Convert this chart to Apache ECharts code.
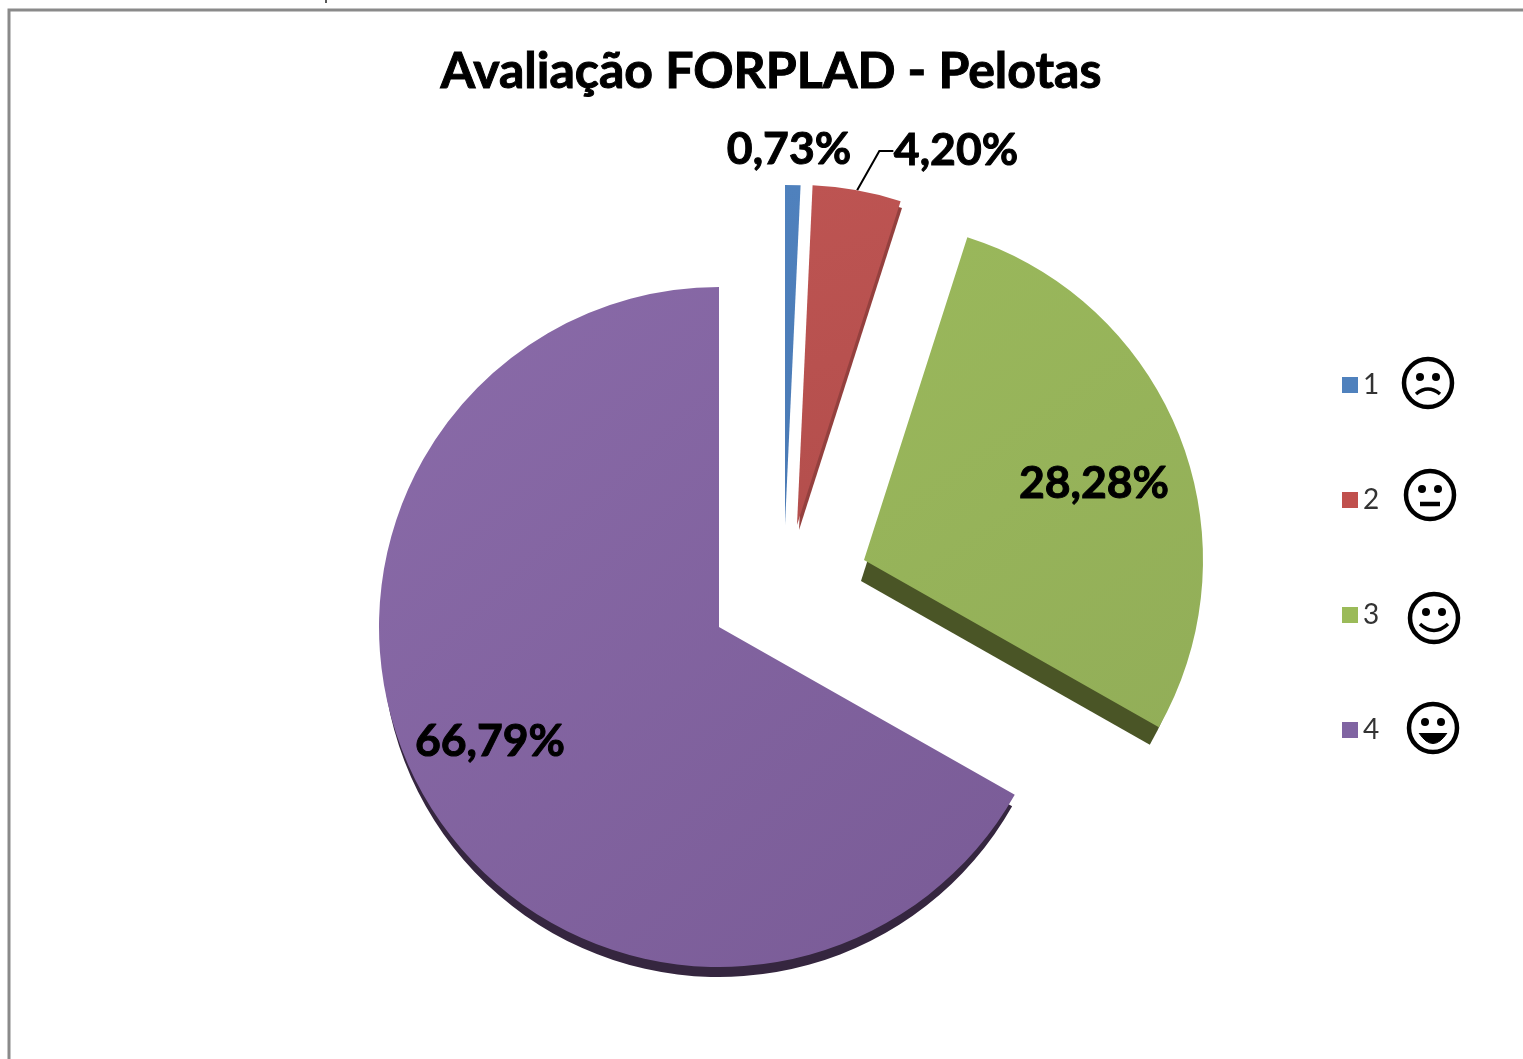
<!DOCTYPE html>
<html>
<head>
<meta charset="utf-8">
<title>Avaliação FORPLAD - Pelotas</title>
<script src="https://cdn.jsdelivr.net/npm/echarts@6/dist/echarts.min.js"></script>
<style>
    html, body { margin: 0; padding: 0; background: #fff; overflow: hidden; }
    #container { width: 1523px; height: 1059px; }
</style>
</head>
<body>
<div id="container"></div>
<script>
var categories = ['1', '2', '3', '4'];
var values = [0.73, 4.20, 28.28, 66.79];

// cor clara / escura do topo e cor da lateral de cada fatia
var topColors = [['#4f81bd', '#4a7ab5'], ['#bd5452', '#b34e4c'], ['#9ab85b', '#92ae58'], ['#8a6ba9', '#795b96']];
var sideColors = ['#2c4d75', '#94403e', '#4a5526', '#35263f'];
var legendColors = ['#4f81bd', '#c0504d', '#9bbb59', '#8064a2'];

// deslocamento de cada fatia explodida
var centers = [[785, 525], [797, 525], [864, 560], [719, 627]];
var radius = [340, 340, 339, 340];
var sideOffset = [null, [2, 5], [-3, 21], [0, 13]];
var sideRadius = [0, 338, 332, 337];
var labelPos = [[789, 150], [956, 151], [1094, 484], [490, 742]];

var labelFont = {
    fontFamily: 'Lato', fontWeight: 'bold', fontSize: 44.5, color: '#000',
    textBorderColor: '#000', textBorderWidth: 1
};

function formatPercent(v) {
    return v.toFixed(2).replace('.', ',') + '%';
}

// cada serie desenha todas as fatias, mas so uma fica visivel
function sliceData(idx, color) {
    return values.map(function(v, i) {
        return {
            name: categories[i],
            value: v,
            itemStyle: { color: i === idx ? color : 'transparent' },
            label: { show: false },
            labelLine: { show: false }
        };
    });
}

function baseSeries(center, r, data) {
    return {
        type: 'pie',
        center: center,
        radius: [0, r],
        startAngle: 90,
        silent: true,
        animation: false,
        avoidLabelOverlap: false,
        emphasis: { disabled: true },
        data: data
    };
}

var series = [];
// laterais primeiro, ficam por baixo
sideOffset.forEach(function(off, i) {
    if (!off) return;
    var c = [centers[i][0] + off[0], centers[i][1] + off[1]];
    series.push(baseSeries(c, sideRadius[i], sliceData(i, sideColors[i])));
});
centers.forEach(function(c, i) {
    var grad = new echarts.graphic.LinearGradient(0, 0, 1, 1, [
        { offset: 0, color: topColors[i][0] },
        { offset: 1, color: topColors[i][1] }
    ]);
    var s = baseSeries(c, radius[i], sliceData(i, grad));
    var item = s.data[i];
    item.label = Object.assign({
        show: true,
        formatter: formatPercent(values[i])
    }, labelFont);
    s.labelLayout = { x: labelPos[i][0], y: labelPos[i][1], align: 'center', verticalAlign: 'middle' };
    if (i === 1) {
        // 4,20% tem linha de chamada
        item.labelLine = { show: true, length: 28, length2: 14, lineStyle: { color: '#000', width: 2 } };
    }
    series.push(s);
});

var graphics = [
    { type: 'rect', shape: { x: 9, y: 10, width: 1700, height: 1200 }, style: { fill: 'none', stroke: '#8a8a8a', lineWidth: 3 }, silent: true },
    { type: 'line', shape: { x1: 326, y1: 0, x2: 326, y2: 3 }, style: { stroke: '#222', lineWidth: 1.5 }, silent: true }
];

// carinhas ao lado da legenda
var facePos = [[1428, 383], [1430, 495], [1434, 618], [1433, 728]];
var mouths = [
    { type: 'bezierCurve', shape: { x1: -12, y1: 11, cpx1: 0, cpy1: 1, x2: 12, y2: 11 }, style: { fill: 'none', stroke: '#000', lineWidth: 3.5 } },
    { type: 'line', shape: { x1: -10, y1: 9, x2: 10, y2: 9 }, style: { stroke: '#000', lineWidth: 4.5 } },
    { type: 'bezierCurve', shape: { x1: -14, y1: 6, cpx1: 0, cpy1: 19, x2: 14, y2: 6 }, style: { fill: 'none', stroke: '#000', lineWidth: 3.5 } },
    { type: 'bezierCurve', shape: { x1: -14, y1: 5, cpx1: 0, cpy1: 26, x2: 14, y2: 5 }, style: { fill: '#000', stroke: '#000', lineWidth: 1 } }
];
facePos.forEach(function(p, i) {
    graphics.push({
        type: 'group',
        x: p[0],
        y: p[1],
        silent: true,
        children: [
            { type: 'circle', shape: { cx: 0, cy: 0, r: 24 }, style: { fill: '#fff', stroke: '#000', lineWidth: 4.5 } },
            { type: 'circle', shape: { cx: -8, cy: -6, r: 4 }, style: { fill: '#000' } },
            { type: 'circle', shape: { cx: 8, cy: -6, r: 4 }, style: { fill: '#000' } },
            mouths[i]
        ]
    });
});

var myChart = echarts.init(document.getElementById('container'));
myChart.setOption({
    backgroundColor: '#fff',
    animation: false,
    title: {
        text: 'Avaliação FORPLAD - Pelotas',
        left: 766,
        top: 42,
        textAlign: 'center',
        textStyle: {
            fontFamily: 'Lato', fontWeight: 'bold', fontSize: 50, color: '#000',
            textBorderColor: '#000', textBorderWidth: 1
        }
    },
    legend: {
        orient: 'vertical',
        left: 1337,
        top: 365,
        itemWidth: 16,
        itemHeight: 16,
        itemGap: 85,
        selectedMode: false,
        icon: 'rect',
        textStyle: { fontFamily: 'Lato', fontSize: 28, color: '#333', lineHeight: 30 },
        data: categories.map(function(c, i) {
            return { name: c, itemStyle: { color: legendColors[i] } };
        })
    },
    graphic: graphics,
    series: series
});
</script>
</body>
</html>
